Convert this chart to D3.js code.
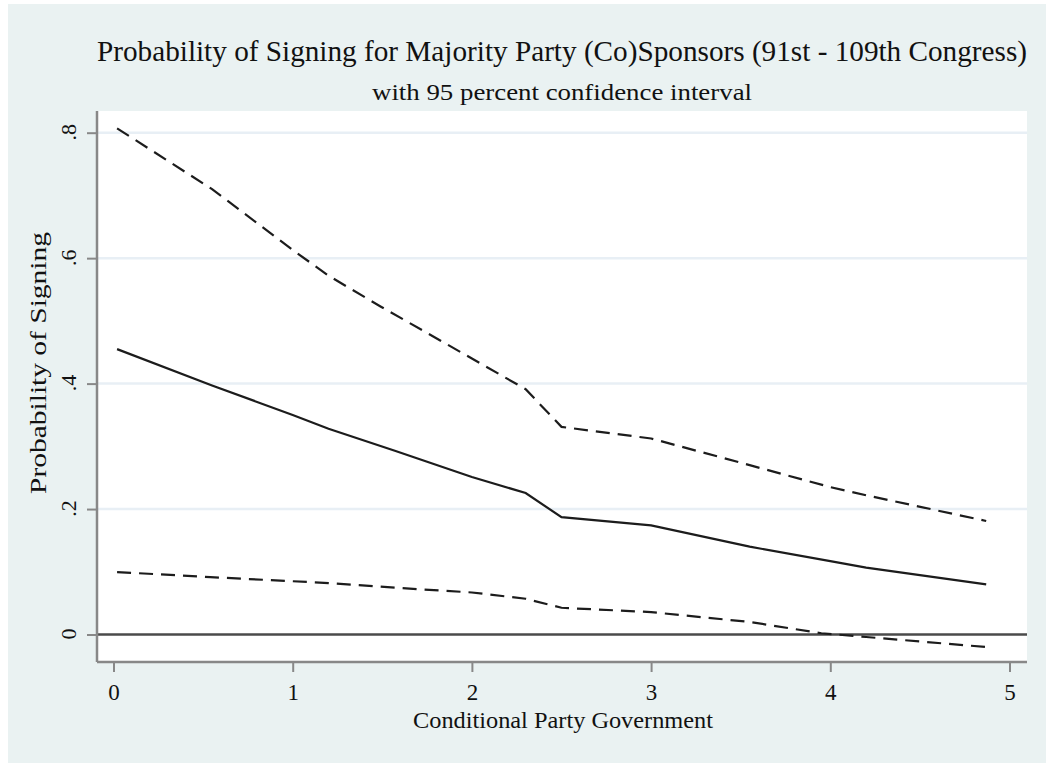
<!DOCTYPE html>
<html><head><meta charset="utf-8">
<script src="https://cdn.jsdelivr.net/npm/d3@7"></script>
<style>
html,body{margin:0;padding:0;background:#fff;}
svg{display:block;}
text{font-family:"Liberation Serif","Times New Roman",serif;fill:#111;}
</style></head>
<body>
<svg id="chart" width="1046" height="763"></svg>
<script>
// ---- data ----
const titleText = "Probability of Signing for Majority Party (Co)Sponsors (91st - 109th Congress)";
const subtitleText = "with 95 percent confidence interval";
const xTitle = "Conditional Party Government";
const yTitle = "Probability of Signing";
const xTicks = [0, 1, 2, 3, 4, 5];
const yTicks = [0, 0.2, 0.4, 0.6, 0.8];
const yTickLabels = ["0", ".2", ".4", ".6", ".8"];

const estX = [0.02, 0.55, 1.0, 1.2, 1.57, 2.0, 2.3, 2.5, 3.0, 3.55, 4.0, 4.2, 4.87];
const estY = [0.455, 0.397, 0.350, 0.328, 0.293, 0.251, 0.2256, 0.187, 0.174, 0.140, 0.117, 0.1065, 0.080];

const upX = [0.02, 0.55, 1.0, 1.2, 1.49, 2.0, 2.3, 2.5, 3.0, 3.55, 4.0, 4.2, 4.87];
const upY = [0.807, 0.71, 0.613, 0.572, 0.523, 0.44, 0.391, 0.331, 0.3125, 0.27, 0.235, 0.222, 0.181];

const loX = [0.02, 0.54, 1.2, 1.57, 2.0, 2.3, 2.5, 3.0, 3.55, 3.95, 4.2, 4.87];
const loY = [0.0995, 0.0915, 0.082, 0.0746, 0.067, 0.057, 0.0426, 0.0357, 0.02, 0.002, -0.004, -0.020];

// ---- layout ----
const svg = d3.select("#chart");
const plotL = 97, plotR = 1027, plotT = 111, plotB = 662;

svg.append("rect").attr("x", 8).attr("y", 4).attr("width", 1046 - 8).attr("height", 763 - 4)
  .attr("fill", "#eaf2f2");
svg.append("rect").attr("x", plotL).attr("y", plotT).attr("width", plotR - plotL).attr("height", plotB - plotT)
  .attr("fill", "#ffffff");

const x = d3.scaleLinear().domain([0, 5]).range([113.5, 1009.5]);
const y = d3.scaleLinear().domain([0, 0.8]).range([634.5, 132.7]);

// gridlines
svg.append("g").selectAll("line").data(yTicks.filter(d => d > 0)).join("line")
  .attr("x1", plotL).attr("x2", plotR)
  .attr("y1", d => y(d)).attr("y2", d => y(d))
  .attr("stroke", "#e8eff5").attr("stroke-width", 2.5);

// zero line
svg.append("line").attr("x1", plotL).attr("x2", plotR)
  .attr("y1", y(0)).attr("y2", y(0))
  .attr("stroke", "#4a4a4a").attr("stroke-width", 2.5);

// y axis
const yAxis = d3.axisLeft(y).tickValues(yTicks).tickSize(10).tickPadding(0)
  .tickFormat((d, i) => yTickLabels[i]);
const gy = svg.append("g").attr("transform", `translate(${plotL},0)`).call(yAxis);
gy.select(".domain").attr("d", `M0,${plotT}V${plotB}`).attr("stroke", "#888").attr("stroke-width", 2.5);
gy.selectAll(".tick line").attr("stroke", "#888").attr("stroke-width", 2);
gy.selectAll(".tick text")
  .attr("x", 0).attr("y", 0).attr("dy", null)
  .attr("transform", "translate(-21,-1) rotate(-90)")
  .attr("text-anchor", "middle").attr("font-size", 22)
  .attr("fill", "#111");

// x axis
const xAxis = d3.axisBottom(x).tickValues(xTicks).tickSize(10).tickPadding(6)
  .tickFormat(d3.format("d"));
const gx = svg.append("g").attr("transform", `translate(0,${plotB})`).call(xAxis);
gx.select(".domain").attr("d", `M${plotL},0H${plotR}`).attr("stroke", "#888").attr("stroke-width", 2.5);
gx.selectAll(".tick line").attr("stroke", "#888").attr("stroke-width", 2);
gx.selectAll(".tick text").attr("font-size", 23).attr("fill", "#111")
  .attr("y", 38).attr("dy", null);

// lines
const line = d3.line().x(d => x(d[0])).y(d => y(d[1]));
const est = d3.zip(estX, estY), up = d3.zip(upX, upY), lo = d3.zip(loX, loY);

svg.append("path").datum(up).attr("d", line).attr("fill", "none")
  .attr("stroke", "#1c1c1c").attr("stroke-width", 2.2).attr("stroke-dasharray", "14,8");
svg.append("path").datum(lo).attr("d", line).attr("fill", "none")
  .attr("stroke", "#1c1c1c").attr("stroke-width", 2.2).attr("stroke-dasharray", "14,8");
svg.append("path").datum(est).attr("d", line).attr("fill", "none")
  .attr("stroke", "#1c1c1c").attr("stroke-width", 2.2);

// titles
svg.append("text").attr("x", 562).attr("y", 61).attr("text-anchor", "middle")
  .attr("font-size", 29).attr("textLength", 930).attr("lengthAdjust", "spacingAndGlyphs")
  .text(titleText);
svg.append("text").attr("x", 562).attr("y", 100).attr("text-anchor", "middle")
  .attr("font-size", 24).attr("textLength", 380).attr("lengthAdjust", "spacingAndGlyphs")
  .text(subtitleText);
svg.append("text").attr("x", 563).attr("y", 728).attr("text-anchor", "middle")
  .attr("font-size", 24).attr("textLength", 300).attr("lengthAdjust", "spacingAndGlyphs")
  .text(xTitle);
svg.append("text").attr("transform", "translate(46,363) rotate(-90)").attr("text-anchor", "middle")
  .attr("font-size", 24).attr("textLength", 262).attr("lengthAdjust", "spacingAndGlyphs")
  .text(yTitle);
</script>
</body></html>
